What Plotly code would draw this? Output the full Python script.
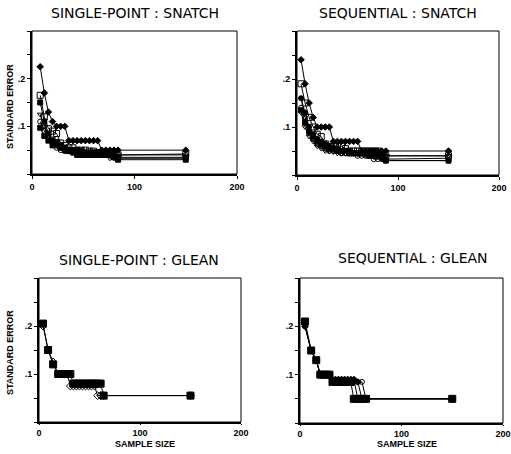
import plotly.graph_objects as go

# ---------------- data ----------------
titles = ["SINGLE-POINT : SNATCH", "SEQUENTIAL : SNATCH", "SINGLE-POINT : GLEAN", "SEQUENTIAL : GLEAN"]
x_ticks = [0, 100, 200]
x_tick_labels = ["0", "100", "200"]
y_ticks = [0, 0.05, 0.1, 0.15, 0.2, 0.25, 0.3]
y_tick_labels = ["", "", ".1", "", ".2", "", ""]

# Panel 1: single-point snatch
sp_sn_x = [8, 12, 16, 20, 24, 28, 32, 36, 40, 44, 48, 52, 56, 60, 64, 68, 72, 76, 80, 84, 150]
sp_sn_a = [0.225, 0.17, 0.13, 0.11, 0.10, 0.10, 0.10, 0.07, 0.07, 0.07, 0.07, 0.07, 0.07, 0.07, 0.07, 0.05, 0.05, 0.05, 0.05, 0.05, 0.05]
sp_sn_b = [0.165, 0.12, 0.095, 0.09, 0.085, 0.065, 0.06, 0.055, 0.055, 0.05, 0.05, 0.05, 0.048, 0.048, 0.045, 0.045, 0.045, 0.045, 0.045, 0.04, 0.042]
sp_sn_c = [0.15, 0.11, 0.085, 0.07, 0.065, 0.06, 0.055, 0.05, 0.05, 0.05, 0.048, 0.045, 0.045, 0.045, 0.045, 0.045, 0.04, 0.04, 0.04, 0.035, 0.035]
sp_sn_d = [0.125, 0.10, 0.08, 0.075, 0.07, 0.055, 0.05, 0.05, 0.05, 0.048, 0.045, 0.045, 0.045, 0.045, 0.045, 0.04, 0.04, 0.033, 0.033, 0.033, 0.033]
sp_sn_e = [0.097, 0.08, 0.07, 0.06, 0.06, 0.055, 0.05, 0.048, 0.045, 0.04, 0.04, 0.04, 0.04, 0.04, 0.04, 0.04, 0.04, 0.04, 0.035, 0.03, 0.03]
sp_sn_f = [0.11, 0.09, 0.075, 0.065, 0.055, 0.05, 0.048, 0.048, 0.045, 0.045, 0.045, 0.045, 0.045, 0.045, 0.04, 0.04, 0.04, 0.04, 0.04, 0.04, 0.04]

# Panel 2: sequential snatch
sq_sn_x = [4, 8, 12, 16, 20, 24, 28, 32, 36, 40, 44, 48, 52, 56, 60, 64, 68, 72, 76, 80, 84, 88, 150]
sq_sn_a = [0.24, 0.19, 0.15, 0.12, 0.10, 0.10, 0.10, 0.10, 0.07, 0.07, 0.07, 0.07, 0.07, 0.07, 0.07, 0.05, 0.05, 0.05, 0.05, 0.05, 0.05, 0.05, 0.05]
sq_sn_b = [0.19, 0.15, 0.12, 0.10, 0.085, 0.08, 0.065, 0.06, 0.06, 0.06, 0.06, 0.055, 0.05, 0.05, 0.05, 0.05, 0.05, 0.05, 0.05, 0.05, 0.04, 0.04, 0.04]
sq_sn_c = [0.16, 0.13, 0.10, 0.085, 0.075, 0.07, 0.065, 0.06, 0.055, 0.055, 0.05, 0.05, 0.05, 0.045, 0.045, 0.045, 0.045, 0.045, 0.04, 0.04, 0.035, 0.03, 0.03]
sq_sn_d = [0.14, 0.12, 0.09, 0.075, 0.065, 0.06, 0.055, 0.05, 0.05, 0.05, 0.045, 0.045, 0.045, 0.045, 0.04, 0.04, 0.04, 0.04, 0.033, 0.033, 0.033, 0.033, 0.035]
sq_sn_e = [0.135, 0.11, 0.09, 0.08, 0.07, 0.065, 0.06, 0.055, 0.055, 0.05, 0.05, 0.05, 0.045, 0.045, 0.045, 0.045, 0.045, 0.04, 0.04, 0.04, 0.04, 0.03, 0.03]
sq_sn_f = [0.13, 0.10, 0.08, 0.07, 0.06, 0.055, 0.05, 0.05, 0.048, 0.045, 0.045, 0.045, 0.045, 0.045, 0.045, 0.045, 0.04, 0.04, 0.04, 0.04, 0.04, 0.04, 0.04]

# Panel 3: single-point glean
sp_gl_x = [4, 9, 14, 19, 22, 25, 28, 31, 34, 37, 40, 43, 46, 49, 52, 55, 58, 61, 64, 150]
sp_gl_a = [0.205, 0.15, 0.12, 0.10, 0.10, 0.10, 0.10, 0.10, 0.08, 0.08, 0.08, 0.08, 0.08, 0.08, 0.08, 0.08, 0.08, 0.08, 0.055, 0.055]
sp_gl_b = [0.20, 0.15, 0.125, 0.10, 0.10, 0.10, 0.10, 0.075, 0.075, 0.075, 0.075, 0.075, 0.075, 0.075, 0.075, 0.075, 0.055, 0.055, 0.055, 0.055]

# Panel 4: sequential glean
sq_gl_x = [5, 11, 16, 20, 23, 26, 29, 32, 35, 38, 41, 44, 47, 50, 53, 57, 61, 65, 150]
sq_gl_a = [0.21, 0.15, 0.13, 0.10, 0.10, 0.10, 0.10, 0.085, 0.085, 0.085, 0.085, 0.085, 0.085, 0.085, 0.05, 0.05, 0.05, 0.05, 0.05]
sq_gl_b = [0.20, 0.15, 0.13, 0.10, 0.10, 0.10, 0.10, 0.09, 0.09, 0.09, 0.09, 0.09, 0.09, 0.09, 0.09, 0.05, 0.05, 0.05, 0.05]
sq_gl_c = [0.20, 0.15, 0.13, 0.10, 0.10, 0.10, 0.10, 0.09, 0.09, 0.09, 0.09, 0.09, 0.09, 0.09, 0.09, 0.085, 0.05, 0.05, 0.05]
sq_gl_d = [0.20, 0.15, 0.13, 0.10, 0.10, 0.10, 0.10, 0.085, 0.085, 0.085, 0.085, 0.085, 0.085, 0.085, 0.085, 0.085, 0.085, 0.05, 0.05]

# ---------------- figure ----------------
W, H = 511, 454
fig = go.Figure()

def px_dom_x(a, b):
    return [a / W, b / W]

def px_dom_y(top, bottom):
    return [1 - bottom / H, 1 - top / H]

domains = [
    (px_dom_x(32, 237), px_dom_y(31, 174)),
    (px_dom_x(297, 499), px_dom_y(31, 175)),
    (px_dom_x(39, 241), px_dom_y(278, 422)),
    (px_dom_x(300, 503), px_dom_y(278, 423)),
]

def add_series(i, x, y, symbol, size=5):
    ax = "" if i == 0 else str(i + 1)
    fig.add_trace(go.Scatter(
        x=x, y=y, mode="lines+markers",
        line=dict(color="black", width=1),
        marker=dict(symbol=symbol, size=size, color="black",
                    line=dict(color="black", width=1)),
        xaxis="x" + ax, yaxis="y" + ax, showlegend=False, cliponaxis=False))

add_series(0, sp_sn_x, sp_sn_f, "circle-open")
add_series(0, sp_sn_x, sp_sn_d, "triangle-down-open")
add_series(0, sp_sn_x, sp_sn_e, "square")
add_series(0, sp_sn_x, sp_sn_c, "square")
add_series(0, sp_sn_x, sp_sn_b, "square-open", 6)
add_series(0, sp_sn_x, sp_sn_a, "diamond")

add_series(1, sq_sn_x, sq_sn_f, "triangle-down-open")
add_series(1, sq_sn_x, sq_sn_d, "circle-open")
add_series(1, sq_sn_x, sq_sn_e, "square")
add_series(1, sq_sn_x, sq_sn_c, "circle")
add_series(1, sq_sn_x, sq_sn_b, "square-open", 6)
add_series(1, sq_sn_x, sq_sn_a, "diamond")

add_series(2, sp_gl_x, sp_gl_b, "diamond-open", 6)
add_series(2, sp_gl_x, sp_gl_a, "square", 7)

add_series(3, sq_gl_x, sq_gl_d, "circle-open", 5)
add_series(3, sq_gl_x, sq_gl_c, "diamond", 5)
add_series(3, sq_gl_x, sq_gl_b, "circle", 5)
add_series(3, sq_gl_x, sq_gl_a, "square", 7)

tick_font = dict(family="Liberation Sans", size=9, color="black", weight="bold")
shapes = []
for i, (dx, dy) in enumerate(domains):
    ax = "" if i == 0 else str(i + 1)
    fig.layout["xaxis" + ax] = dict(
        domain=dx, range=[0, 200], anchor="y" + ax, automargin=False,
        tickvals=x_ticks, ticktext=x_tick_labels,
        ticks="outside", ticklen=3 if i < 2 else 1, tickcolor="black",
        showline=True, linecolor="black", linewidth=2,
        showgrid=False, zeroline=False, tickfont=tick_font, fixedrange=True)
    fig.layout["yaxis" + ax] = dict(
        domain=dy, range=[0, 0.3], anchor="x" + ax, automargin=False,
        tickvals=y_ticks, ticktext=y_tick_labels,
        ticks="outside", ticklen=3, tickcolor="black",
        showline=True, linecolor="black", linewidth=2,
        showgrid=False, zeroline=False, tickfont=tick_font, fixedrange=True)
    shapes.append(dict(type="rect", xref="x" + ax + " domain", yref="y" + ax + " domain",
                       x0=0, x1=1, y0=0, y1=1, line=dict(color="black", width=1),
                       layer="below"))

title_pos = [(135, 13), (398, 13), (139, 260), (413, 258)]
annotations = []
for t, (cx, cy) in zip(titles, title_pos):
    annotations.append(dict(text=t, x=cx / W, y=1 - cy / H, xref="paper", yref="paper",
                            xanchor="center", yanchor="middle", showarrow=False,
                            font=dict(family="DejaVu Sans", size=14, color="black")))
for cy in [107, 353]:
    annotations.append(dict(text="STANDARD ERROR", x=10 / W, y=1 - cy / H, xref="paper", yref="paper",
                            xanchor="center", yanchor="middle", showarrow=False, textangle=-90,
                            font=dict(family="Liberation Sans", size=9, color="black", weight="bold")))
for cx in [145, 407]:
    annotations.append(dict(text="SAMPLE SIZE", x=cx / W, y=1 - 444 / H, xref="paper", yref="paper",
                            xanchor="center", yanchor="middle", showarrow=False,
                            font=dict(family="Liberation Sans", size=9, color="black", weight="bold")))

fig.update_layout(
    width=W, height=H, margin=dict(l=0, r=0, t=0, b=0),
    paper_bgcolor="white", plot_bgcolor="white",
    shapes=shapes, annotations=annotations, showlegend=False)

fig.write_html("out.html", config={"displayModeBar": False},
               post_script="document.body.style.margin='0';document.body.style.padding='0';")
